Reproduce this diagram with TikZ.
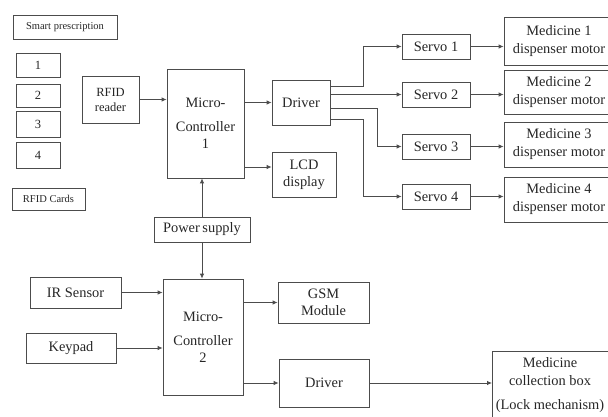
\documentclass[tikz,border=0pt]{standalone}
\usepackage{fontspec}
\setmainfont{Liberation Serif}
\usetikzlibrary{arrows.meta,calc}
\begin{document}
\begin{tikzpicture}[x=1pt,y=-1pt,
  box/.style={draw=black!70,line width=0.8pt,inner sep=0pt,align=center,text=black!85,
    font=\fontsize{14.4}{19}\selectfont},
  smallbox/.style={box,font=\fontsize{10.5}{12}\selectfont},
  midbox/.style={box,font=\fontsize{12.5}{15}\selectfont},
  arr/.style={draw=black!70,line width=0.8pt,-{Latex[length=5pt,width=4.5pt]}},
  ln/.style={draw=black!70,line width=0.8pt}]
\useasboundingbox (0,0) rectangle (608,417);
% left column
\node[smallbox,minimum width=104pt,minimum height=24pt] (sp) at (65,27) {Smart prescription};
\node[midbox,minimum width=44pt,minimum height=24pt] (c1) at (38,65) {1};
\node[midbox,minimum width=44pt,minimum height=23pt] (c2) at (38,95.5) {2};
\node[midbox,minimum width=44pt,minimum height=26pt] (c3) at (38,124) {3};
\node[midbox,minimum width=44pt,minimum height=26pt] (c4) at (38,155) {4};
\node[smallbox,minimum width=73pt,minimum height=22pt] (rc) at (48.5,199) {RFID Cards};
\node[midbox,minimum width=57pt,minimum height=47pt] (rfid) at (110.5,99.5) {RFID\\reader};
% controller 1
\node[box,minimum width=77pt,minimum height=109pt] (mc1) at (205.5,123.5) {Micro-\\[5pt]Controller\\[-2pt]1};
\node[box,minimum width=58pt,minimum height=45pt] (drv1) at (301,102.5) {Driver};
\node[box,minimum width=64pt,minimum height=45pt,font=\fontsize{14.4}{17}\selectfont] (lcd) at (304,174.5) {LCD\\display};
\node[box,minimum width=96pt,minimum height=25pt] (ps) at (202,229.5) {Power\hspace{-1pt} supply};
% servos
\foreach \i/\y in {1/46.5,2/94.5,3/146.5,4/196.5}{
  \node[box,minimum width=68pt,minimum height=25pt] (s\i) at (436,\y) {Servo \i};
}
\node[box,minimum width=110pt,minimum height=48pt,font=\fontsize{14.4}{18}\selectfont] (m1) at (559,41) {Medicine 1\\dispenser motor};
\node[box,minimum width=110pt,minimum height=44pt,font=\fontsize{14.4}{18}\selectfont] (m2) at (559,92) {Medicine 2\\dispenser motor};
\node[box,minimum width=110pt,minimum height=45pt,font=\fontsize{14.4}{18}\selectfont] (m3) at (559,144.5) {Medicine 3\\dispenser motor};
\node[box,minimum width=110pt,minimum height=45pt,font=\fontsize{14.4}{18}\selectfont] (m4) at (559,199.5) {Medicine 4\\dispenser motor};
% controller 2
\node[box,minimum width=91pt,minimum height=31pt] (ir) at (75.5,292.5) {IR Sensor};
\node[box,minimum width=90pt,minimum height=30pt] (kp) at (71,348) {Keypad};
\node[box,minimum width=80pt,minimum height=116pt] (mc2) at (203,337) {Micro-\\[5pt]Controller\\[-2pt]2};
\node[box,minimum width=91pt,minimum height=41pt,font=\fontsize{14.4}{17}\selectfont] (gsm) at (323.5,302.5) {GSM\\Module};
\node[box,minimum width=90pt,minimum height=48pt] (drv2) at (324,383) {Driver};
\node[box,minimum width=118pt,minimum height=74pt,anchor=north west] (mcb) at (492,351) {};
\node[text=black!85,font=\fontsize{14.4}{18}\selectfont,align=center,anchor=north] (mcbt) at (550,354) {Medicine\\collection box\\[6pt](Lock mechanism)};
% connectors
\draw[arr] (rfid.east) -- (mc1.west |- rfid.east);
\draw[arr] (mc1.east |- drv1.west) -- (drv1.west);
\draw[arr] ($(mc1.east)+(0,43.5)$) -- ($(lcd.west)+(0,-7.5)$);
\draw[arr] (ps.north) -- (ps.north |- mc1.south);
\draw[arr] (ps.south) -- (ps.south |- mc2.north);
\coordinate (b1) at (363,86);
\coordinate (b3) at (377,108);
\coordinate (b4) at (363,119);
\draw[arr] (drv1.east |- b1) -- (b1) |- (s1.west);
\draw[arr] (drv1.east |- s2.west) -- (s2.west);
\draw[arr] (drv1.east |- b3) -- (b3) |- (s3.west);
\draw[arr] (drv1.east |- b4) -- (b4) |- (s4.west);
\foreach \i in {1,2,3,4}{
  \draw[arr] (s\i.east) -- (m\i.west |- s\i.east);
}
\draw[arr] (ir.east) -- (mc2.west |- ir.east);
\draw[arr] (kp.east) -- (mc2.west |- kp.east);
\draw[arr] (mc2.east |- gsm.west) -- (gsm.west);
\draw[arr] (mc2.east |- drv2.west) -- (drv2.west);
\draw[arr] (drv2.east) -- (mcb.west |- drv2.east);
\end{tikzpicture}
\end{document}
